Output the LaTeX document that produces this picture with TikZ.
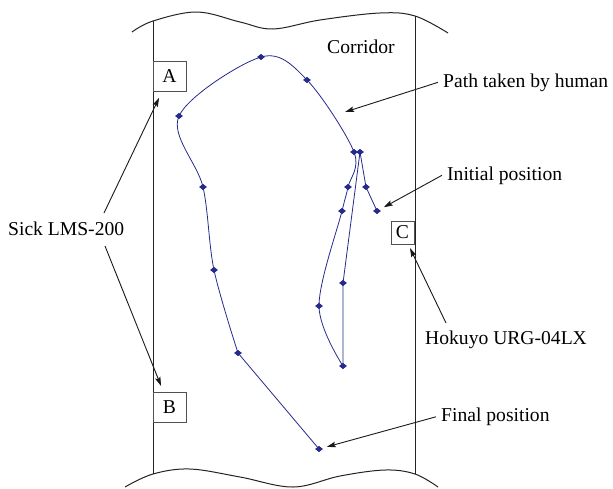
\documentclass[tikz,border=0pt]{standalone}
\usepackage{fontspec}
\setmainfont{Liberation Serif}
\usetikzlibrary{arrows.meta,shapes.geometric}
\definecolor{pathblue}{RGB}{38,42,140}
\definecolor{wallgray}{RGB}{35,35,35}
\definecolor{boxgray}{RGB}{80,80,80}
\tikzset{
  wall/.style={draw=wallgray, line width=1pt},
  sensorbox/.style={draw=boxgray, line width=0.9pt, inner sep=0pt},
  lbl/.style={inner sep=0pt, anchor=base west, font=\fontsize{19.6}{22}\selectfont},
  arr/.style={draw=black!90, line width=0.9pt, -{Stealth[length=9pt,width=5.5pt,inset=1.5pt]}},
  pt/.style={diamond, fill=pathblue, inner sep=0pt, minimum width=7.5pt, minimum height=6pt},
  route/.style={draw=pathblue, line width=0.8pt}
}
\begin{document}
\begin{tikzpicture}[x=1pt,y=-1pt]
\useasboundingbox (0,0) rectangle (613,488);

% corridor edges (wavy break lines) and walls
\draw[wall] plot[smooth, tension=0.6] coordinates {(132,32) (153,21) (197,12) (240,22) (273,29) (320,20) (380,13) (415,16) (448,33)};
\draw[wall] plot[smooth, tension=0.6] coordinates {(125,487) (153,474) (190,469) (240,477) (293,487) (340,476) (385,470) (415,474) (438,487)};
\draw[wall] (153,21) -- (153,474);
\draw[wall] (415,16) -- (415,474);

% sensors
\node[sensorbox, minimum width=33pt, minimum height=30pt, font=\fontsize{19.6}{22}\selectfont] (A) at (169.5,76) {A};
\node[sensorbox, minimum width=33pt, minimum height=30pt, font=\fontsize{19.6}{22}\selectfont] (B) at (169.5,407) {B};
\node[sensorbox, minimum width=23pt, minimum height=23pt, font=\fontsize{19.6}{22}\selectfont] (C) at (402.5,232.5) {C};

% labels
\node[lbl] (corr) at (327,53) {Corridor};
\node[lbl] (pathlbl) at (443,87) {Path taken by human};
\node[lbl] (initlbl) at (447,180) {Initial position};
\node[lbl] (hoklbl) at (425,344) {Hokuyo URG-04LX};
\node[lbl] (finlbl) at (441,421.5) {Final position};
\node[lbl] (sick) at (8,235) {Sick LMS-200};

% walking route samples
\node[pt] (init) at (377,211) {};
\node[pt] (q1) at (366,187) {};
\node[pt] (q2) at (360,152) {};
\node[pt] (q3) at (343,283) {};
\node[pt] (q4) at (343,366) {};
\node[pt] (q5) at (319,306) {};
\node[pt] (q6) at (342,211) {};
\node[pt] (q7) at (348,187) {};
\node[pt] (q8) at (354,152) {};
\node[pt] (q9) at (307,80) {};
\node[pt] (q10) at (261,57) {};
\node[pt] (q11) at (179,116) {};
\node[pt] (q12) at (203,187) {};
\node[pt] (q13) at (214,270) {};
\node[pt] (q14) at (238,353) {};
\node[pt] (fin) at (319,449) {};

\draw[route] (init.center) -- (q1.center) -- (q2.center) -- (q3.center) -- (q4.center);
\draw[route] plot[smooth, tension=0.55] coordinates {(q4.center) (q5.center) (q6.center) (q7.center) (q8.center) (q9.center) (q10.center) (q11.center) (q12.center) (q13.center) (q14.center)};
\draw[route] (q14.center) -- (fin.center);

% redraw markers on top of the route
\foreach \p in {init,q1,q2,q3,q4,q5,q6,q7,q8,q9,q10,q11,q12,q13,q14,fin}
  \node[pt] at (\p.center) {};

% callouts
\coordinate (pathtip) at (345,112);
\coordinate (sickup) at (104,213);
\coordinate (sickdown) at (105,246);
\coordinate (hokstart) at (446,323);
\draw[arr] ([xshift=-5pt]pathlbl.west) -- (pathtip);
\draw[arr, shorten >=5pt] ([xshift=-5pt]initlbl.west) -- (init);
\draw[arr, shorten >=5pt] ([xshift=-5pt]finlbl.west) -- (fin);
\draw[arr, shorten >=4pt] (hokstart) -- (C);
\draw[arr, shorten >=7pt] (sickup) -- (A);
\draw[arr, shorten >=6pt] (sickdown) -- (B);
\end{tikzpicture}
\end{document}
